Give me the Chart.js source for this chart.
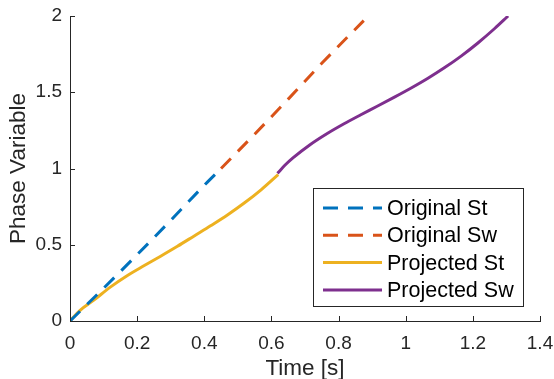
<!DOCTYPE html>
<html>
<head>
<meta charset="utf-8">
<script src="https://cdn.jsdelivr.net/npm/chart.js@4/dist/chart.umd.min.js"></script>
<style>
  html, body { margin: 0; padding: 0; background: #fff; }
  #wrap { width: 554px; height: 379px; }
</style>
</head>
<body>
<div id="wrap"><canvas id="c" width="554" height="379"></canvas></div>
<script>
// values
const origStX = [0, 0.1, 0.2, 0.3, 0.4, 0.45];
const origStY = [0, 0.215, 0.435, 0.66, 0.89, 1.0];
const origSwX = [0.45, 0.55, 0.65, 0.75, 0.875];
const origSwY = [1.0, 1.225, 1.455, 1.69, 1.97];
const projStX = [0, 0.03, 0.07, 0.12, 0.17, 0.22, 0.27, 0.32, 0.37, 0.42, 0.47, 0.52, 0.57, 0.62];
const projStY = [0, 0.07, 0.135, 0.222, 0.297, 0.362, 0.425, 0.49, 0.558, 0.626, 0.697, 0.775, 0.862, 0.96];
const projSwX = [0.618, 0.64, 0.665, 0.715, 0.765, 0.815, 0.865, 0.915, 0.965, 1.015, 1.065, 1.115, 1.165, 1.215, 1.265, 1.305];
const projSwY = [0.968, 1.021, 1.071, 1.156, 1.228, 1.292, 1.351, 1.408, 1.466, 1.526, 1.59, 1.66, 1.737, 1.823, 1.918, 2.0];
const labels = ['Original St', 'Original Sw', 'Projected St', 'Projected Sw'];
const colors = ['#0072BD', '#D95319', '#EDB120', '#7E2F8E'];
const dashes = [[14, 10], [14, 10], [], []];

const xTicks = [0, 0.2, 0.4, 0.6, 0.8, 1, 1.2, 1.4];
const yTicks = [0, 0.5, 1, 1.5, 2];

const ink = '#262626';
const fontFamily = '"Liberation Sans", Arial, Helvetica, sans-serif';

const toPts = (xs, ys) => xs.map((x, i) => ({ x: x, y: ys[i] }));
const series = [
  toPts(origStX, origStY),
  toPts(origSwX, origSwY),
  toPts(projStX, projStY),
  toPts(projSwX, projSwY)
];

// MATLAB style inward tick marks
const tickMarks = {
  id: 'tickMarks',
  afterDraw(chart) {
    const ctx = chart.ctx;
    const xs = chart.scales.x, ys = chart.scales.y;
    const area = chart.chartArea;
    ctx.save();
    ctx.strokeStyle = ink;
    ctx.lineWidth = 1;
    ctx.beginPath();
    xTicks.forEach(v => {
      const px = Math.round(xs.getPixelForValue(v)) + 0.5;
      ctx.moveTo(px, area.bottom);
      ctx.lineTo(px, area.bottom - 5);
    });
    yTicks.forEach(v => {
      const py = Math.round(ys.getPixelForValue(v)) + 0.5;
      ctx.moveTo(area.left, py);
      ctx.lineTo(area.left + 5, py);
    });
    ctx.stroke();
    ctx.restore();
  }
};

// boxed legend inside the axes, lower right
const boxLegend = {
  id: 'boxLegend',
  afterDraw(chart) {
    const ctx = chart.ctx;
    const bx = 313.5, by = 188.5, bw = 210, bh = 118;
    ctx.save();
    ctx.fillStyle = '#fff';
    ctx.fillRect(bx, by, bw, bh);
    ctx.strokeStyle = ink;
    ctx.lineWidth = 1;
    ctx.strokeRect(bx, by, bw, bh);
    ctx.font = '21.5px ' + fontFamily;
    ctx.textBaseline = 'middle';
    ctx.fillStyle = '#000';
    chart.data.datasets.forEach((ds, i) => {
      const y = 208 + i * 27.3;
      ctx.beginPath();
      ctx.strokeStyle = ds.borderColor;
      ctx.lineWidth = 3;
      ctx.setLineDash(ds.borderDash && ds.borderDash.length ? [15, 10] : []);
      ctx.moveTo(323, y);
      ctx.lineTo(382, y);
      ctx.stroke();
      ctx.setLineDash([]);
      ctx.fillText(ds.label, 387, y + 1);
    });
    ctx.restore();
  }
};

new Chart(document.getElementById('c'), {
  type: 'line',
  data: {
    datasets: series.map((pts, i) => ({
      label: labels[i],
      data: pts,
      borderColor: colors[i],
      backgroundColor: colors[i],
      borderWidth: 3,
      borderDash: dashes[i],
      borderCapStyle: 'butt',
      pointRadius: 0,
      fill: false,
      cubicInterpolationMode: 'monotone'
    }))
  },
  options: {
    responsive: false,
    animation: false,
    layout: { padding: { top: 16, right: 14, left: 0, bottom: 0 } },
    plugins: {
      legend: { display: false },
      tooltip: { enabled: false }
    },
    scales: {
      x: {
        type: 'linear',
        min: 0,
        max: 1.4,
        afterFit: s => { s.height = 58; s.paddingLeft = 0; s.paddingRight = 0; },
        afterBuildTicks: s => { s.ticks = xTicks.map(v => ({ value: v })); },
        grid: { display: false, drawTicks: false },
        border: { display: true, color: ink, width: 1 },
        ticks: {
          color: ink,
          font: { family: fontFamily, size: 19 },
          padding: 11,
          maxRotation: 0,
          callback: v => String(+v.toFixed(1))
        },
        title: {
          display: true,
          text: 'Time [s]',
          color: ink,
          font: { family: fontFamily, size: 22.5 },
          padding: { top: 0, bottom: -3 }
        }
      },
      y: {
        min: 0,
        max: 2,
        afterFit: s => { s.width = 70; s.paddingTop = 0; s.paddingBottom = 0; },
        afterBuildTicks: s => { s.ticks = yTicks.map(v => ({ value: v })); },
        grid: { display: false, drawTicks: false },
        border: { display: true, color: ink, width: 1 },
        ticks: {
          color: ink,
          font: { family: fontFamily, size: 19 },
          padding: 8,
          callback: v => String(+v.toFixed(1))
        },
        title: {
          display: true,
          text: 'Phase Variable',
          color: ink,
          font: { family: fontFamily, size: 22.5 },
          padding: { top: 5.5, bottom: 0 }
        }
      }
    }
  },
  plugins: [tickMarks, boxLegend]
});
</script>
</body>
</html>
